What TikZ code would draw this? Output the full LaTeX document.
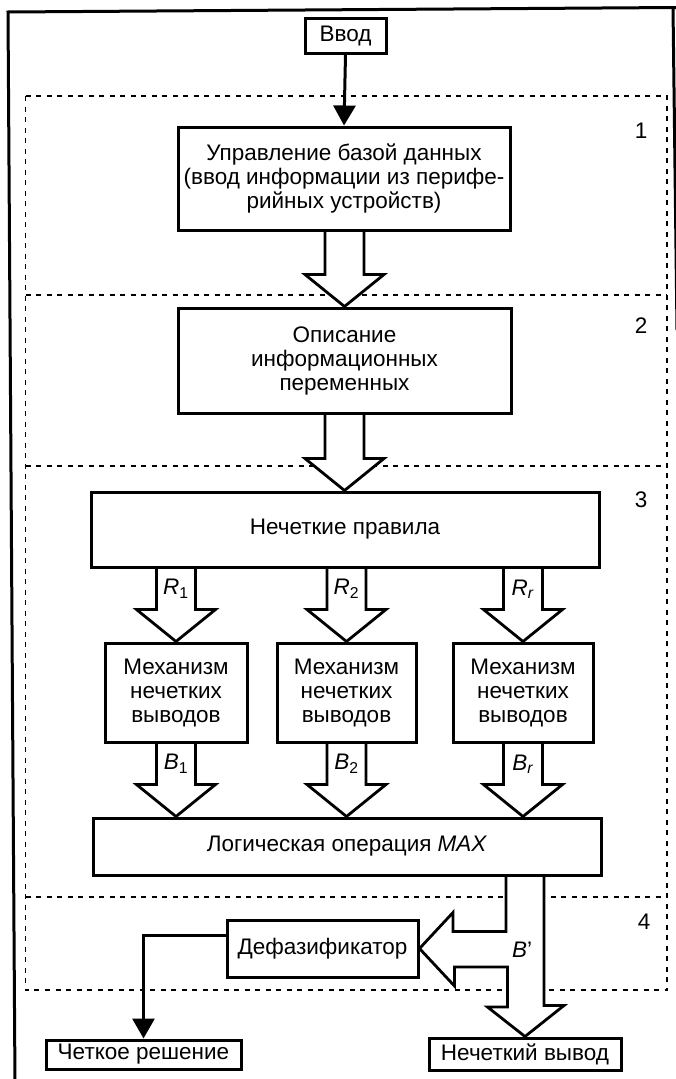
\documentclass[tikz,border=0pt]{standalone}
\usepackage{fontspec}
\setmainfont{Liberation Sans}
\usetikzlibrary{arrows.meta,calc}
\pgfdeclarelayer{bg}\pgfdeclarelayer{mid}
\pgfsetlayers{bg,mid,main}
% hollow (outlined) block arrow from node #1 down to node #2, on the vertical of node #3, label #4
\newcommand\hollowarrow[4]{%
  \coordinate (ht) at (#2.north -| #3);
  \coordinate (hs) at (#1.south -| #3);
  \begin{pgfonlayer}{mid}
  \filldraw[harrow] ([xshift=-19.5pt]hs) -- ([xshift=-19.5pt,yshift=32pt]ht)
     -- ([xshift=-39.5pt,yshift=32pt]ht) -- (ht)
     -- ([xshift=39.5pt,yshift=32pt]ht) -- ([xshift=19.5pt,yshift=32pt]ht)
     -- ([xshift=19.5pt]hs);
  \end{pgfonlayer}
  \node[lab] at ($(hs)!0.5!([yshift=32pt]ht)$) {#4};
}
\begin{document}
\begin{tikzpicture}[x=1pt,y=-1pt,
  font=\fontsize{22.5}{24}\selectfont,
  box/.style={draw, line width=3pt, fill=white, align=center, inner sep=0pt},
  harrow/.style={line width=2.8pt, fill=white, line join=miter},
  thinarrow/.style={line width=3pt, -{Triangle[length=20pt,width=22pt]}},
  dashbox/.style={line width=1.6pt, dash pattern=on 5pt off 5.5pt},
  frame/.style={line width=3pt},
  lab/.style={inner sep=0pt}]
\useasboundingbox (0,0) rectangle (676,1079);

% outer frame (scan is slightly rotated)
\draw[frame] (15,1085) -- (8,12) -- (676,7.5);
\draw[frame] (673,7.5) -- (677,330);

% dashed regions
\begin{pgfonlayer}{bg}
\draw[dashbox] (25.5,96) rectangle (667,990);
\draw[dashbox] (25.5,295) -- (667,295);
\draw[dashbox] (25.5,466) -- (667,466);
\draw[dashbox] (25.5,897) -- (667,897);
\end{pgfonlayer}
\node[lab] (n1) at (641,131) {1};
\node[lab] (n2) at (641,326) {2};
\node[lab] (n3) at (641,500) {3};
\node[lab] (n4) at (644,922) {4};

% boxes
\node[box, minimum width=81pt, minimum height=35pt] (vvod) at (345.5,35.5) {Ввод};
\node[box, minimum width=332pt, minimum height=103pt] (b1) at (344,178.5)
  {Управление базой данных\\(ввод информации из перифе-\\рийных устройств)};
\node[box, minimum width=333pt, minimum height=105pt] (b2) at (344.5,360.5)
  {Описание\\информационных\\переменных};
\node[box, minimum width=508pt, minimum height=75pt] (rules) at (345,529.5)
  {Нечеткие правила};
\node[box, minimum width=142pt, minimum height=99pt] (m1) at (176,692.5)
  {Механизм\\нечетких\\выводов};
\node[box, minimum width=139pt, minimum height=99pt] (m2) at (346.5,692.5)
  {Механизм\\нечетких\\выводов};
\node[box, minimum width=140pt, minimum height=99pt] (m3) at (523,692.5)
  {Механизм\\нечетких\\выводов};
\node[box, minimum width=508pt, minimum height=57pt] (max) at (347,846.5)
  {Логическая операция \textit{MAX}};
\node[box, minimum width=191pt, minimum height=57pt] (defuz) at (322.5,948.5)
  {Дефазификатор};
\node[box, minimum width=195pt, minimum height=29pt] (crisp) at (143.5,1054.5)
  {Четкое решение};
\node[box, minimum width=192pt, minimum height=32pt] (fout) at (525,1054)
  {Нечеткий вывод};

% thin arrows
\draw[thinarrow] (vvod.south) -- (b1.north);
\draw[thinarrow] ([yshift=13.5pt]defuz.west) -| (crisp.north);

% hollow arrows
\hollowarrow{b1}{b2}{b2.north}{}
\hollowarrow{b2}{rules}{b2.north}{}
\hollowarrow{rules}{m1}{m1.north}{\textit{R}\textsubscript{1}}
\hollowarrow{rules}{m2}{m2.north}{\textit{R}\textsubscript{2}}
\hollowarrow{rules}{m3}{m3.north}{\textit{R}\textsubscript{\textit{r}}}
\hollowarrow{m1}{max}{m1.south}{\textit{B}\textsubscript{1}}
\hollowarrow{m2}{max}{m2.south}{\textit{B}\textsubscript{2}}
\hollowarrow{m3}{max}{m3.south}{\textit{B}\textsubscript{\textit{r}}}

% combined B' arrow: to defuzzifier and to fuzzy output
\coordinate (bx) at (max.south -| fout.north);
\begin{pgfonlayer}{mid}
\filldraw[harrow] ([xshift=-19pt]bx) -- ++(0,55) -- ++(-53,0) -- ++(0,-19)
  -- (defuz.east) -- ++(35,37.5) -- ++(0,-19) -- ++(53,0) -- ++(0,40)
  -- ++(-20,0) -- (fout.north) -- ++(39,-31) -- ++(-20,0)
  -- ([xshift=19pt]bx);
\end{pgfonlayer}
\node[lab] at ([yshift=-73pt,xshift=-3pt]bx) {\textit{B}'};
\end{tikzpicture}
\end{document}
